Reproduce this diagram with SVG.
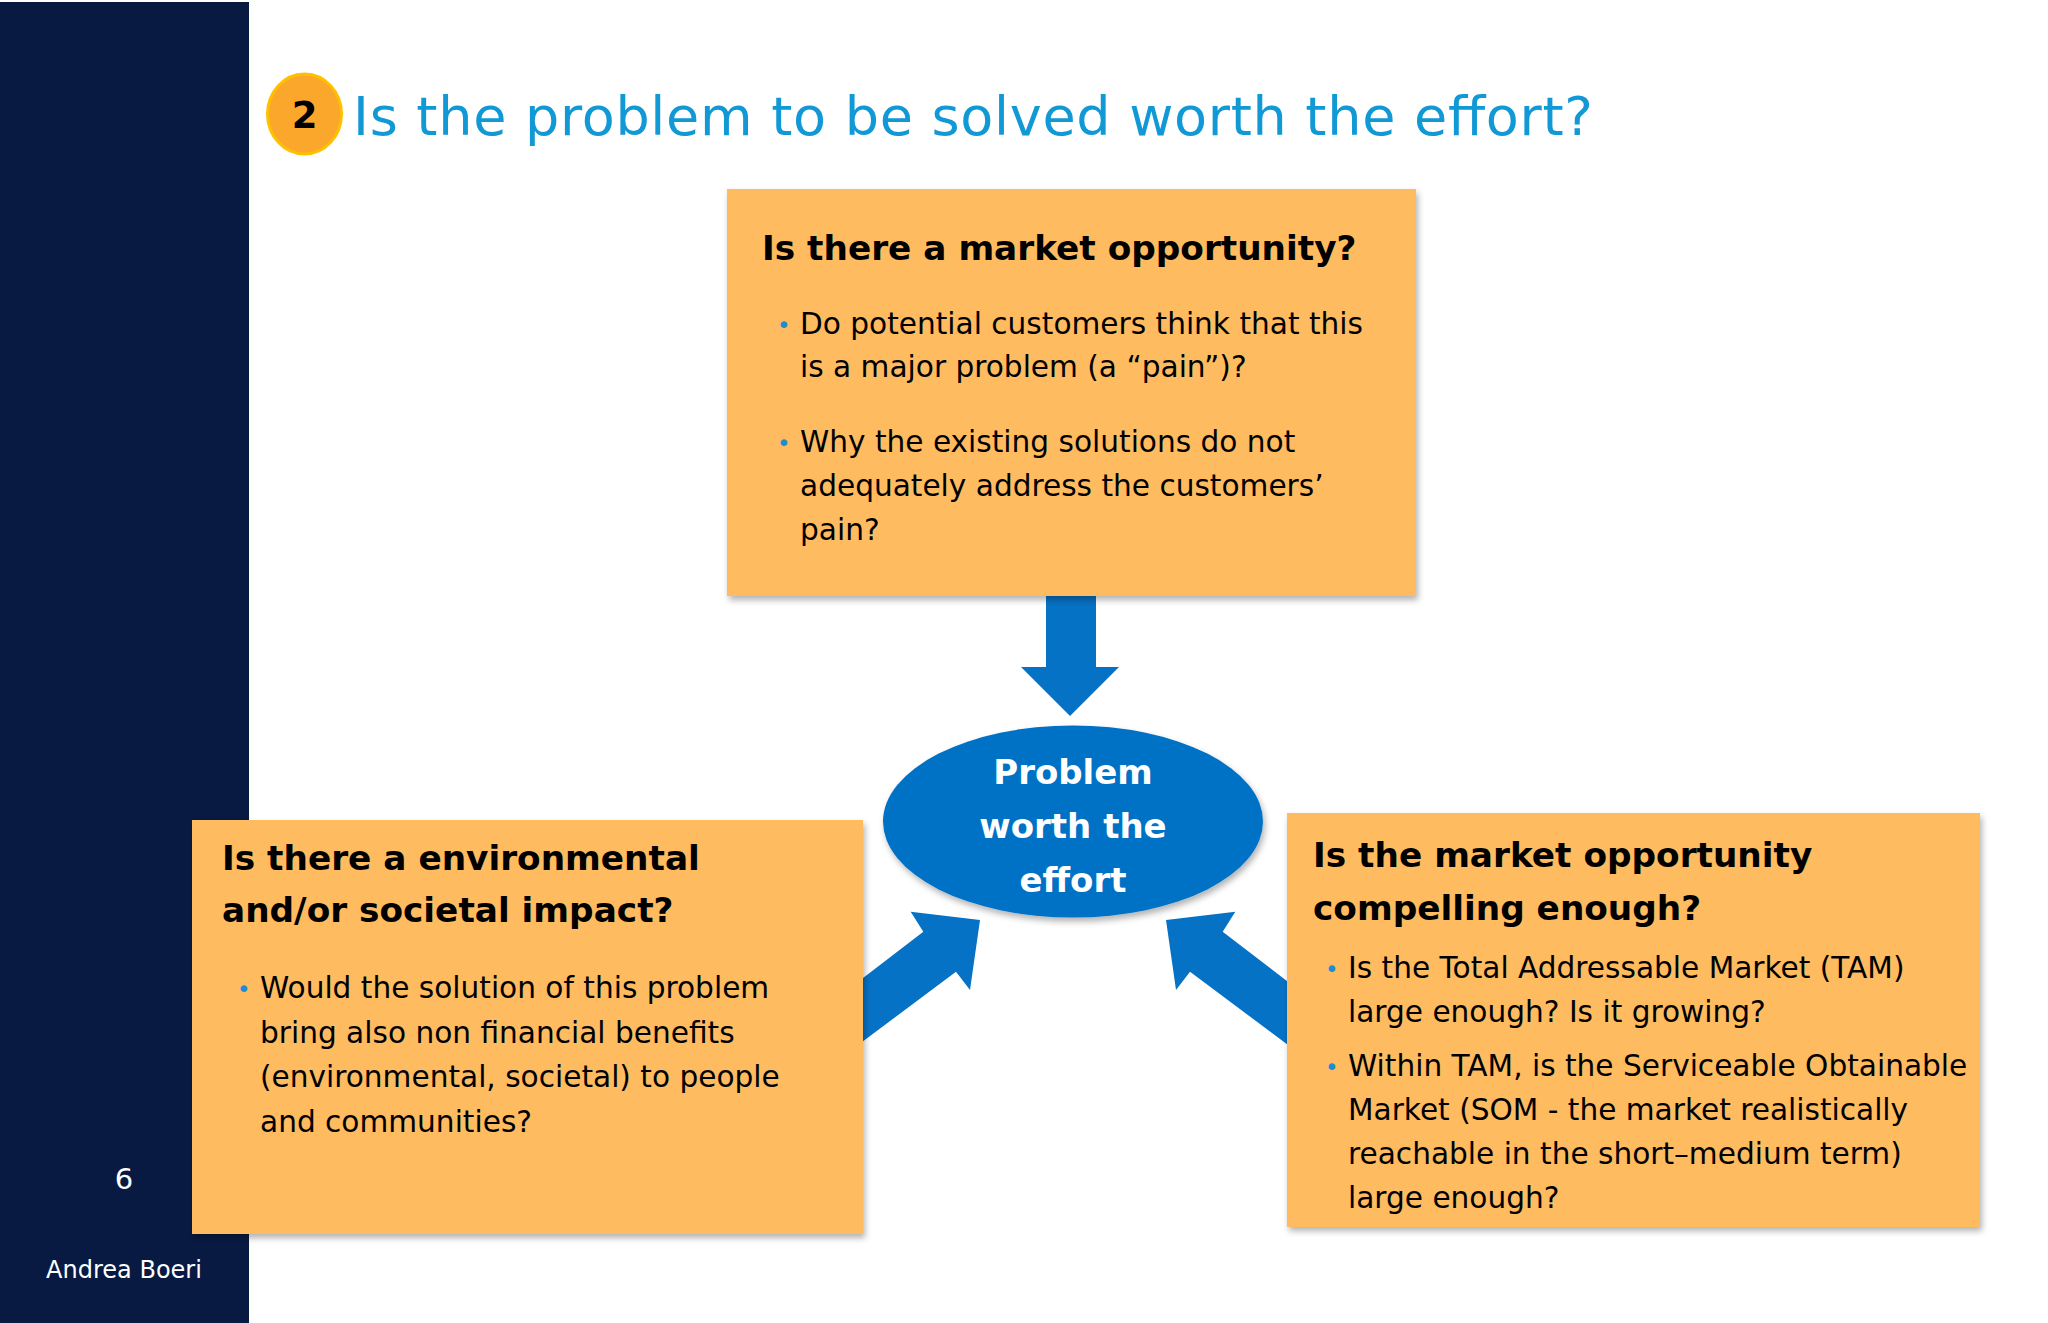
<svg xmlns="http://www.w3.org/2000/svg" width="2048" height="1323" viewBox="0 0 2048 1323">
  <defs>
    <filter id="shadow" x="-10%" y="-10%" width="120%" height="125%">
      <feDropShadow dx="2" dy="4" stdDeviation="3" flood-color="#000" flood-opacity="0.3"/>
    </filter>
    <style>
      .box { fill: #FEBB60; filter: url(#shadow); }
      .head { font-family: "DejaVu Sans", Verdana, sans-serif; font-weight: bold; font-size: 34.3px; fill: #000; }
      .body { font-family: "DejaVu Sans", Verdana, sans-serif; font-size: 29.6px; fill: #000; }
      .bul { font-family: "DejaVu Sans", Verdana, sans-serif; font-size: 23px; fill: #1E8BD3; }
      .arrow { fill: #0672C5; }
      .side { font-family: "DejaVu Sans", Verdana, sans-serif; fill: #fff; text-anchor: middle; }
      .center { font-family: "DejaVu Sans", Verdana, sans-serif; font-weight: bold; font-size: 34px; fill: #fff; text-anchor: middle; }
    </style>
  </defs>
  <rect width="2048" height="1323" fill="#fff"/>

  <g id="sidebar">
    <rect x="0" y="2" width="249" height="1321" fill="#081A42"/>
    <text class="side" x="124" y="1189" font-size="29">6</text>
    <text class="side" x="124" y="1278" font-size="24">Andrea Boeri</text>
  </g>

  <g id="title">
    <ellipse cx="304.5" cy="114" rx="37" ry="40" fill="#FBA72C" stroke="#FFC000" stroke-width="3"/>
    <text x="304.5" y="128" text-anchor="middle" font-family="DejaVu Sans, Verdana, sans-serif" font-weight="bold" font-size="37" fill="#000">2</text>
    <text x="353" y="135" font-family="DejaVu Sans, Verdana, sans-serif" font-size="54" fill="#1199D6" textLength="1240" lengthAdjust="spacing">Is the problem to be solved worth the effort?</text>
  </g>

  <g id="connectors">
    <polygon class="arrow" points="1046,590 1096,590 1096,667 1119,667 1070,716 1021,667 1046,667"/>
    <polygon class="arrow" points="850,988 923.3,931.7 910.7,911.7 980,920 970,990 956,971.7 850,1051"/>
    <polygon class="arrow" points="1296,988 1222.7,931.7 1235.3,911.7 1166,920 1176,990 1190,971.7 1296,1051"/>
  </g>

  <g id="market-opportunity">
    <rect class="box" x="727" y="189" width="689" height="407"/>
    <text class="head" x="762" y="260">Is there a market opportunity?</text>
    <text class="bul" x="777" y="333">•</text>
    <text class="body" x="800" y="334">Do potential customers think that this</text>
    <text class="body" x="800" y="377">is a major problem (a “pain”)?</text>
    <text class="bul" x="777" y="451">•</text>
    <text class="body" x="800" y="452">Why the existing solutions do not</text>
    <text class="body" x="800" y="496">adequately address the customers’</text>
    <text class="body" x="800" y="540">pain?</text>
  </g>

  <g id="impact">
    <rect class="box" x="192" y="820" width="671" height="414"/>
    <text class="head" x="222" y="870">Is there a environmental</text>
    <text class="head" x="222" y="922">and/or societal impact?</text>
    <text class="bul" x="237" y="997">•</text>
    <text class="body" x="260" y="998">Would the solution of this problem</text>
    <text class="body" x="260" y="1043">bring also non financial benefits</text>
    <text class="body" x="260" y="1087">(environmental, societal) to people</text>
    <text class="body" x="260" y="1132">and communities?</text>
  </g>

  <g id="compelling">
    <rect class="box" x="1287" y="813" width="693" height="414"/>
    <text class="head" x="1313" y="867">Is the market opportunity</text>
    <text class="head" x="1313" y="920">compelling enough?</text>
    <text class="bul" x="1325" y="977">•</text>
    <text class="body" x="1348" y="978">Is the Total Addressable Market (TAM)</text>
    <text class="body" x="1348" y="1022">large enough? Is it growing?</text>
    <text class="bul" x="1325" y="1075">•</text>
    <text class="body" x="1348" y="1076">Within TAM, is the Serviceable Obtainable</text>
    <text class="body" x="1348" y="1120">Market (SOM - the market realistically</text>
    <text class="body" x="1348" y="1164">reachable in the short–medium term)</text>
    <text class="body" x="1348" y="1208">large enough?</text>
  </g>

  <g id="problem-worth-effort">
    <ellipse cx="1073" cy="821.5" rx="190" ry="96" fill="#0672C5" filter="url(#shadow)"/>
    <text class="center" x="1073" y="784">Problem</text>
    <text class="center" x="1073" y="838">worth the</text>
    <text class="center" x="1073" y="892">effort</text>
  </g>
</svg>
